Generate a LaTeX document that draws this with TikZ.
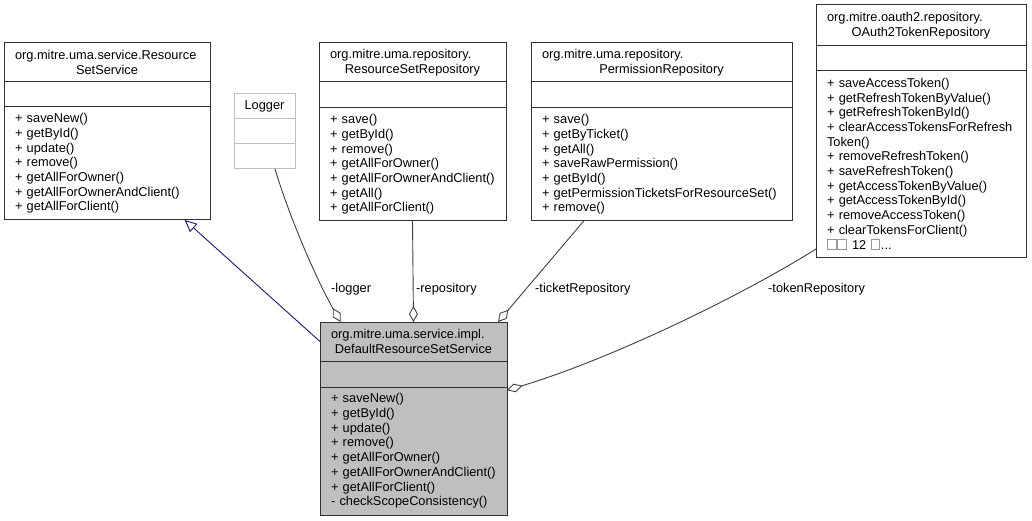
\documentclass[tikz,border=0pt]{standalone}
\usepackage{fontspec}
\setmainfont{Liberation Sans}
\usetikzlibrary{positioning,arrows.meta}
\hyphenpenalty=10000
\exhyphenpenalty=10000
\definecolor{boxline}{HTML}{303030}
\definecolor{edgegray}{HTML}{404040}
\definecolor{navyline}{HTML}{191970}
\definecolor{boxfill}{HTML}{BFBFBF}
\definecolor{paleline}{HTML}{BFBFBF}
\newcommand\umlfont{\fontsize{12.8pt}{14.7pt}\selectfont}
\newcommand\cname[2]{\makebox[\linewidth][l]{#1}\\#2}
\newcommand\tofu{{\setlength{\fboxsep}{0pt}\setlength{\fboxrule}{0.8pt}\color{black!40}\fbox{\rule{0pt}{9.5pt}\rule{8pt}{0pt}}}\hspace{0.8pt}}
\tikzset{
  cls/.style={draw=boxline, line width=1pt, outer sep=0pt, inner xsep=11pt, inner ysep=3pt, font=\umlfont},
  title/.style={cls, align=center},
  members/.style={cls, align=left},
  pale/.style={draw=paleline},
  focus/.style={fill=boxfill},
  agg/.style={draw=edgegray, line width=0.9pt, -{Diamond[open,length=16pt,width=9pt]}},
  inherit/.style={draw=navyline, line width=0.9pt, -{Triangle[open,length=12pt,width=11pt]}},
  role/.style={font=\umlfont, inner sep=0pt, anchor=west}
}
\begin{document}
\begin{tikzpicture}[x=1pt,y=-1pt]
\useasboundingbox (0,0) rectangle (1032,521);

\node[title, anchor=north west, text width=184pt, minimum height=39pt] (rss-t) at (4,43) {\cname{org.mitre.uma.service.Resource}{SetService}};
\node[cls, below=0pt of rss-t, text width=184pt, minimum height=25pt] (rss-a) {};
\node[members, below=0pt of rss-a, text width=184pt, minimum height=113pt] (rss-m) {+~saveNew()\\+~getById()\\+~update()\\+~remove()\\+~getAllForOwner()\\+~getAllForOwnerAndClient()\\+~getAllForClient()};

\node[title, pale, anchor=north west, inner xsep=4pt, text width=53pt, minimum height=25pt] (log-t) at (234,94) {Logger};
\node[cls, pale, below=0pt of log-t, inner xsep=4pt, text width=53pt, minimum height=25pt] (log-a) {};
\node[cls, pale, below=0pt of log-a, inner xsep=4pt, text width=53pt, minimum height=25pt] (log-m) {};

\node[title, anchor=north west, text width=165pt, minimum height=39pt] (rsr-t) at (319,43) {\cname{org.mitre.uma.repository.}{ResourceSetRepository}};
\node[cls, below=0pt of rsr-t, text width=165pt, minimum height=26pt] (rsr-a) {};
\node[members, below=0pt of rsr-a, text width=165pt, minimum height=113pt] (rsr-m) {+~save()\\+~getById()\\+~remove()\\+~getAllForOwner()\\+~getAllForOwnerAndClient()\\+~getAll()\\+~getAllForClient()};

\node[title, anchor=north west, text width=239pt, minimum height=39pt] (prm-t) at (531,43) {\cname{org.mitre.uma.repository.}{PermissionRepository}};
\node[cls, below=0pt of prm-t, text width=239pt, minimum height=26pt] (prm-a) {};
\node[members, below=0pt of prm-a, text width=239pt, minimum height=113pt] (prm-m) {+~save()\\+~getByTicket()\\+~getAll()\\+~saveRawPermission()\\+~getById()\\+~getPermissionTicketsForResourceSet()\\+~remove()};

\node[title, anchor=north west, text width=188pt, minimum height=41pt] (tok-t) at (816,5) {\cname{org.mitre.oauth2.repository.}{OAuth2TokenRepository}};
\node[cls, below=0pt of tok-t, text width=188pt, minimum height=25pt] (tok-a) {};
\node[members, below=0pt of tok-a, text width=188pt, minimum height=186pt] (tok-m) {+~saveAccessToken()\\+~getRefreshTokenByValue()\\+~getRefreshTokenById()\\+~clearAccessTokensForRefresh\\Token()\\+~removeRefreshToken()\\+~saveRefreshToken()\\+~getAccessTokenByValue()\\+~getAccessTokenById()\\+~removeAccessToken()\\+~clearTokensForClient()\\\tofu\tofu~12~\tofu...};

\node[title, focus, anchor=north west, text width=165pt, minimum height=39pt] (dflt-t) at (320,322) {\cname{org.mitre.uma.service.impl.}{DefaultResourceSetService}};
\node[cls, focus, below=0pt of dflt-t, text width=165pt, minimum height=26pt] (dflt-a) {};
\node[members, focus, below=0pt of dflt-a, text width=165pt, minimum height=128pt] (dflt-m) {+~saveNew()\\+~getById()\\+~update()\\+~remove()\\+~getAllForOwner()\\+~getAllForOwnerAndClient()\\+~getAllForClient()\\-~checkScopeConsistency()};

\draw[inherit] (dflt-t.west) -- (rss-m.-36);
\draw[agg] (log-m.-50) .. controls +(15,50) and +(-23,-40) .. (dflt-t.165);
\draw[agg] (rsr-m.south) -- (dflt-t.north);
\draw[agg] (prm-m.-144) -- (dflt-t.13);
\draw[agg] (tok-m.-141) .. controls +(-80,50) and +(100,-30) .. (dflt-m.33);

\node[role] (lbl-log) at (331,289) {-logger};
\node[role] (lbl-rsr) at (416,289) {-repository};
\node[role] (lbl-prm) at (535,289) {-ticketRepository};
\node[role] (lbl-tok) at (768,289) {-tokenRepository};
\end{tikzpicture}
\end{document}
